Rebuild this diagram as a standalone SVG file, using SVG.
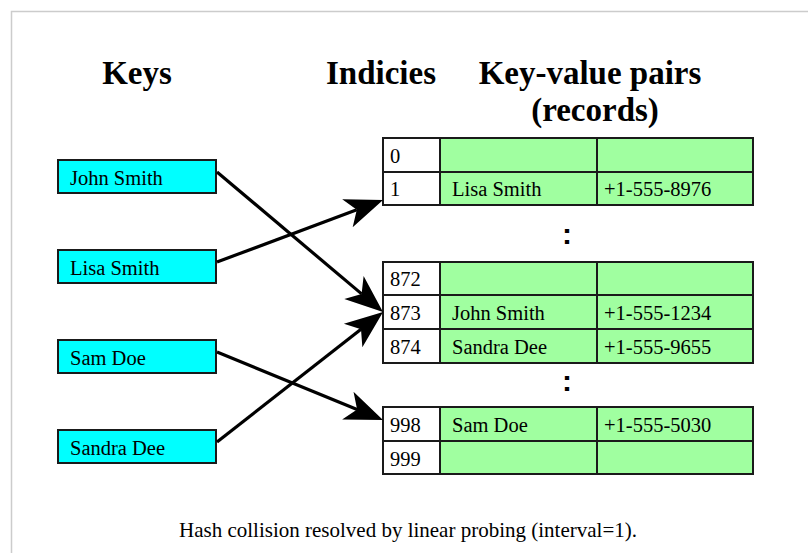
<svg xmlns="http://www.w3.org/2000/svg" width="808" height="553" viewBox="0 0 808 553">
<style>
.h{font-family:"Liberation Serif","Times New Roman",serif;font-weight:bold;font-size:33px;fill:#000}
.t{font-family:"Liberation Serif","Times New Roman",serif;font-size:20.5px;fill:#000}
.key{fill:#00ffff;stroke:#1a1a1a;stroke-width:2}
.idx{fill:#ffffff;stroke:#1a1a1a;stroke-width:2}
.rec{fill:#a0ffa0;stroke:#1a1a1a;stroke-width:2}
.c{stroke:#000;stroke-width:3.2;fill:none;marker-end:url(#ah)}
.dot{font-family:"Liberation Sans",Arial,sans-serif;font-weight:bold;font-size:30px;fill:#000}
</style>
<defs>
<marker id="ah" markerUnits="userSpaceOnUse" orient="auto" viewBox="-42 -18 44 36" markerWidth="44" markerHeight="36" refX="-28" refY="0" overflow="visible">
<path d="M0,0 L-38,-15 L-28,0 L-38,15 Z" fill="#000"/>
</marker>
</defs>
<rect x="0" y="0" width="808" height="553" fill="#fff"/>
<path d="M11.5,553 V11.5 H808" fill="none" stroke="#cccccc" stroke-width="1.5"/>
<g id="headers">
<text class="h" x="137" y="84" text-anchor="middle">Keys</text>
<text class="h" x="381" y="84" text-anchor="middle">Indicies</text>
<text class="h" x="590" y="84" text-anchor="middle">Key-value pairs</text>
<text class="h" x="595" y="121" text-anchor="middle">(records)</text>
</g>
<g id="key-john"><rect class="key" x="58" y="160" width="158" height="33"/><text class="t" x="70" y="185">John Smith</text></g>
<g id="key-lisa"><rect class="key" x="58" y="250" width="158" height="33"/><text class="t" x="70" y="275">Lisa Smith</text></g>
<g id="key-sam"><rect class="key" x="58" y="340" width="158" height="33"/><text class="t" x="70" y="365">Sam Doe</text></g>
<g id="key-sandra"><rect class="key" x="58" y="430" width="158" height="33"/><text class="t" x="70" y="455">Sandra Dee</text></g>
<g id="row-0"><rect class="idx" x="383" y="138" width="57" height="34"/><rect class="rec" x="440" y="138" width="157" height="34"/><rect class="rec" x="597" y="138" width="156" height="34"/><text class="t" x="390" y="163">0</text></g>
<g id="row-1"><rect class="idx" x="383" y="172" width="57" height="33"/><rect class="rec" x="440" y="172" width="157" height="33"/><rect class="rec" x="597" y="172" width="156" height="33"/><text class="t" x="390" y="196">1</text><text class="t" x="452" y="196">Lisa Smith</text><text class="t" x="604" y="196">+1-555-8976</text></g>
<g id="dots-1"><text class="dot" x="567" y="244" text-anchor="middle">:</text></g>
<g id="row-872"><rect class="idx" x="383" y="262" width="57" height="33"/><rect class="rec" x="440" y="262" width="157" height="33"/><rect class="rec" x="597" y="262" width="156" height="33"/><text class="t" x="390" y="286">872</text></g>
<g id="row-873"><rect class="idx" x="383" y="295" width="57" height="34"/><rect class="rec" x="440" y="295" width="157" height="34"/><rect class="rec" x="597" y="295" width="156" height="34"/><text class="t" x="390" y="320">873</text><text class="t" x="452" y="320">John Smith</text><text class="t" x="604" y="320">+1-555-1234</text></g>
<g id="row-874"><rect class="idx" x="383" y="329" width="57" height="34"/><rect class="rec" x="440" y="329" width="157" height="34"/><rect class="rec" x="597" y="329" width="156" height="34"/><text class="t" x="390" y="354">874</text><text class="t" x="452" y="354">Sandra Dee</text><text class="t" x="604" y="354">+1-555-9655</text></g>
<g id="dots-2"><text class="dot" x="567" y="391" text-anchor="middle">:</text></g>
<g id="row-998"><rect class="idx" x="383" y="407" width="57" height="34"/><rect class="rec" x="440" y="407" width="157" height="34"/><rect class="rec" x="597" y="407" width="156" height="34"/><text class="t" x="390" y="432">998</text><text class="t" x="452" y="432">Sam Doe</text><text class="t" x="604" y="432">+1-555-5030</text></g>
<g id="row-999"><rect class="idx" x="383" y="441" width="57" height="33"/><rect class="rec" x="440" y="441" width="157" height="33"/><rect class="rec" x="597" y="441" width="156" height="33"/><text class="t" x="390" y="466">999</text></g>
<g id="connectors">
<line class="c" x1="217" y1="172" x2="361.6" y2="293.9"/>
<line class="c" x1="217" y1="262" x2="356.8" y2="209.8"/>
<line class="c" x1="217" y1="352" x2="357.1" y2="409.4"/>
<line class="c" x1="217" y1="442" x2="361" y2="329.3"/>
</g>
<text class="t" x="408" y="537" text-anchor="middle" style="font-size:21px">Hash collision resolved by linear probing (interval=1).</text>
</svg>
